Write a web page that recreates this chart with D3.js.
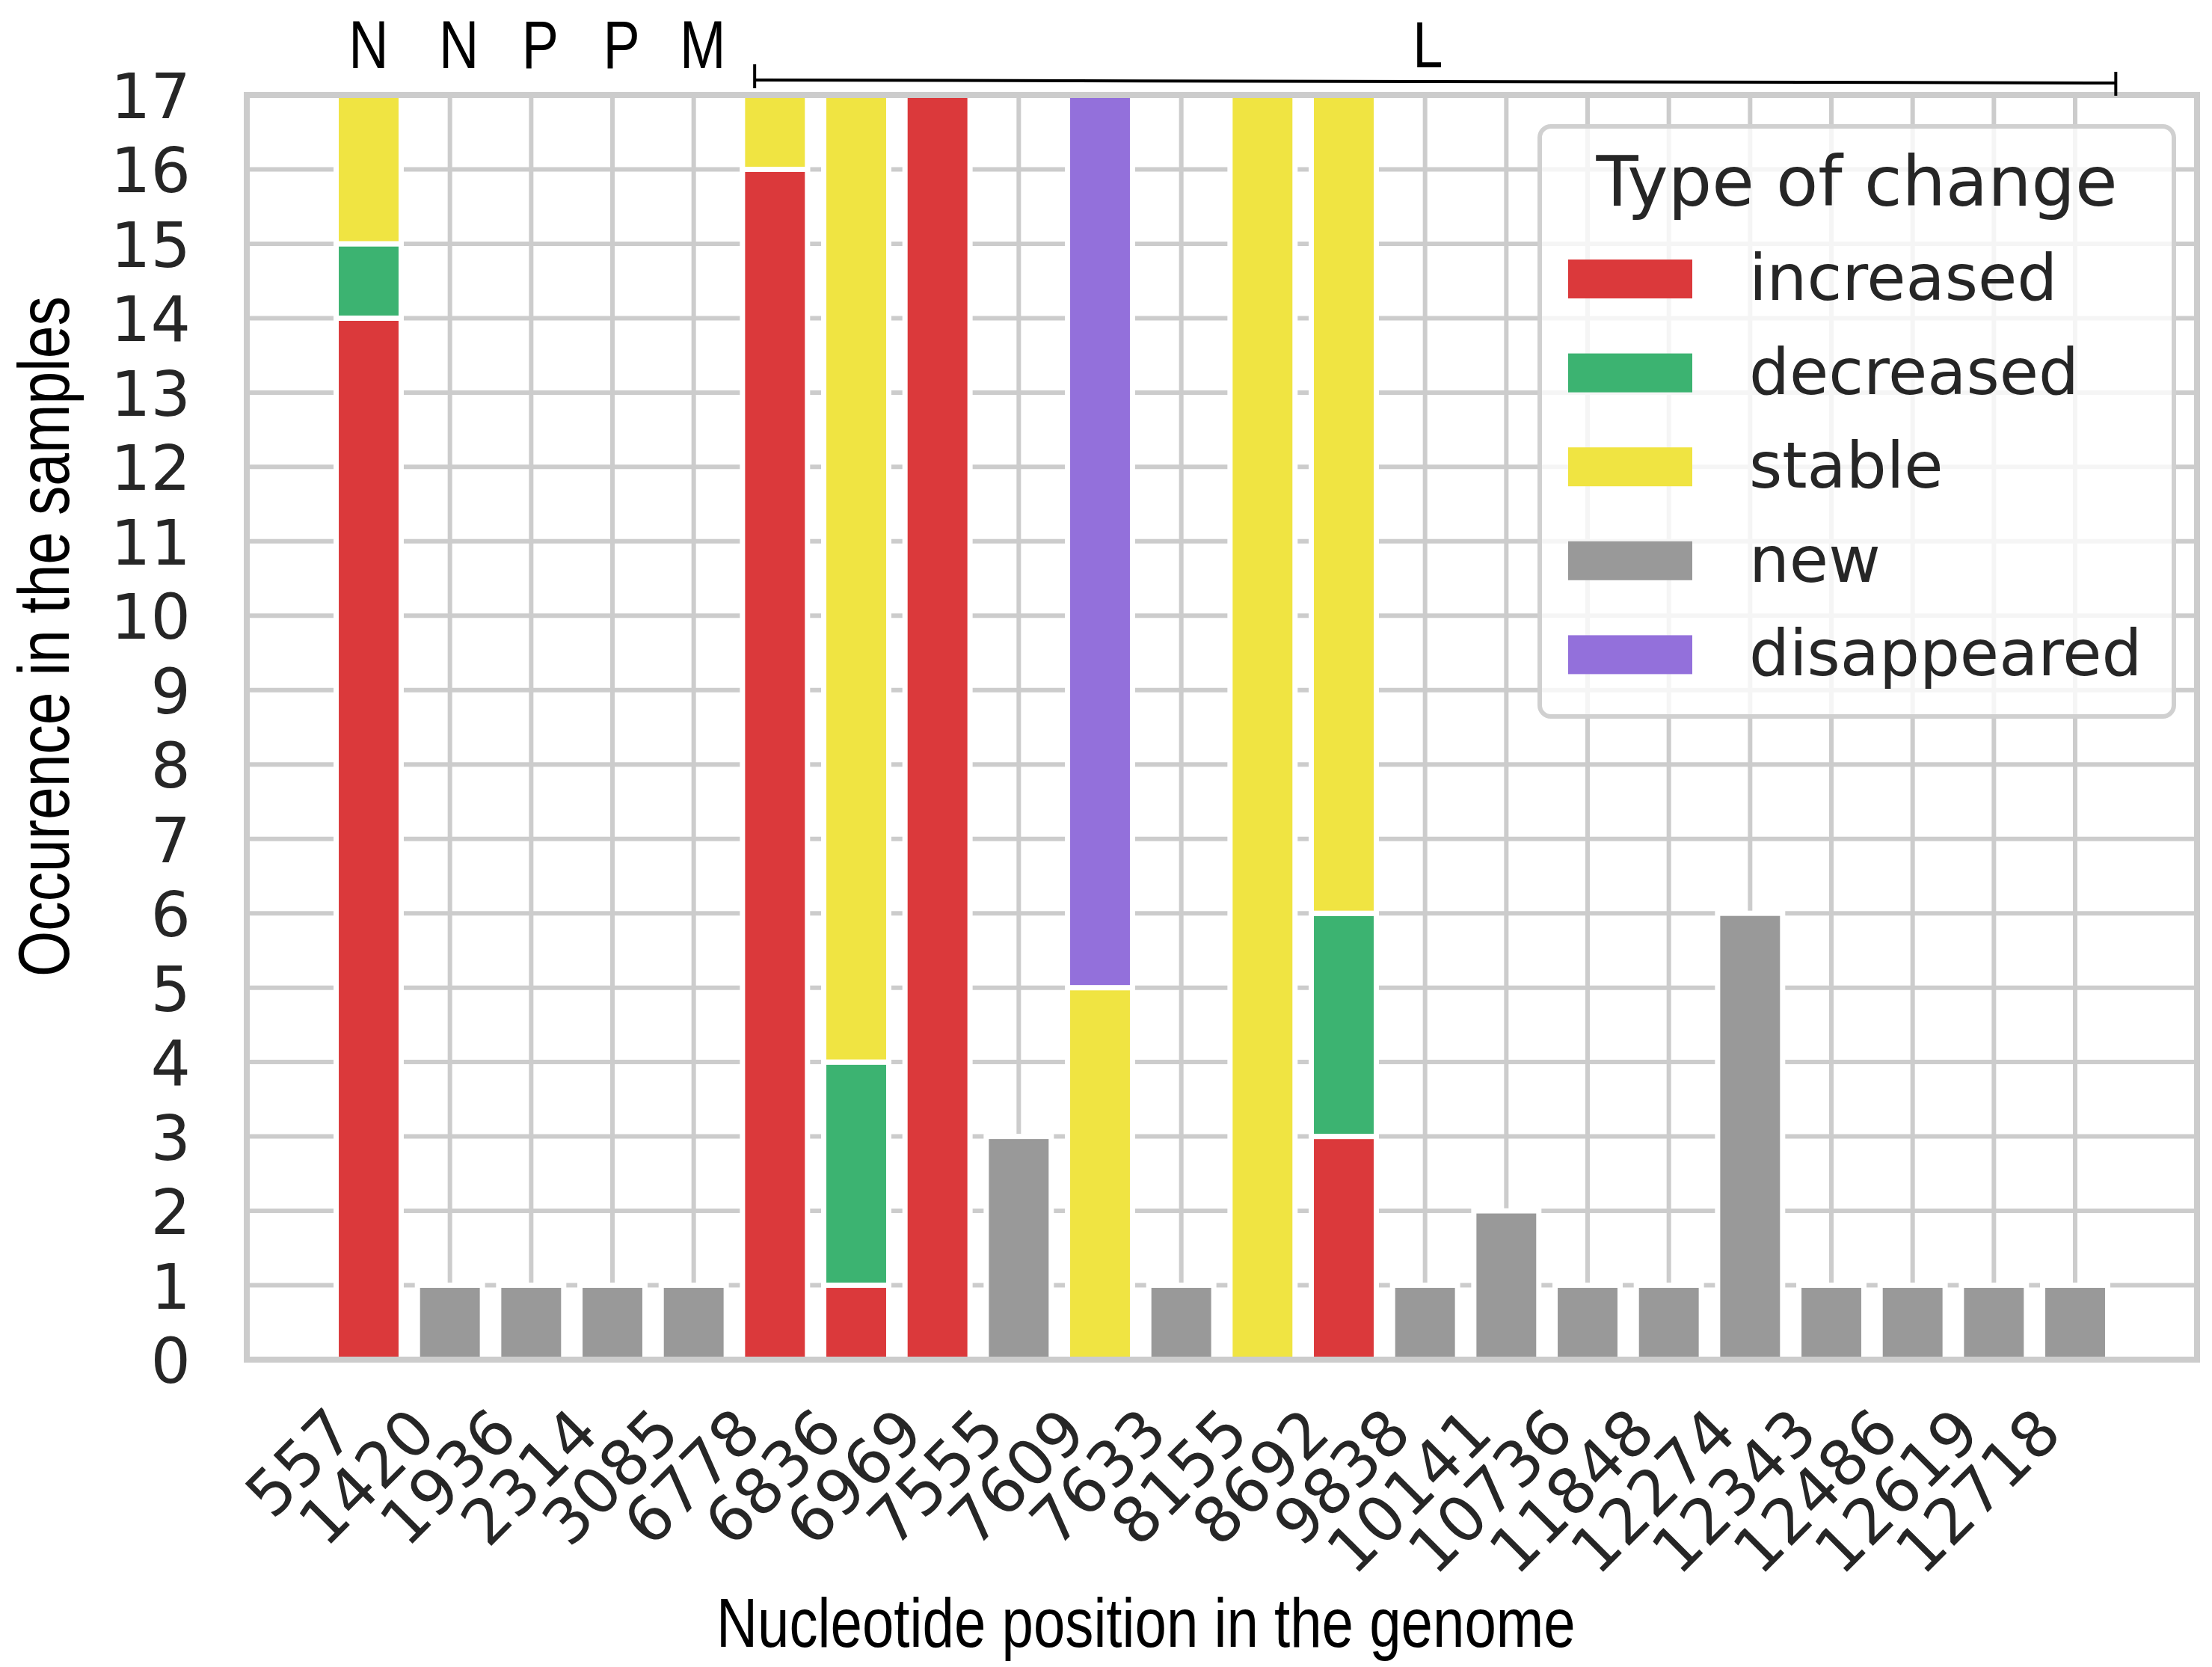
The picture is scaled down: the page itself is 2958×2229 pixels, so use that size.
<!DOCTYPE html>
<html>
<head>
<meta charset="utf-8">
<script src="https://cdn.jsdelivr.net/npm/d3@7"></script>
<style>
  body { margin: 0; background: white; }
</style>
</head>
<body>
<div id="chart"></div>
<script>
const positions = ["557", "1420", "1936", "2314", "3085", "6778", "6836", "6969", "7555", "7609", "7633",
  "8155", "8692", "9838", "10141", "10736", "11848", "12274", "12343", "12486", "12619", "12718"];

const increased   = [14, 0, 0, 0, 0, 16, 1, 17, 0, 0, 0, 0, 3, 0, 0, 0, 0, 0, 0, 0, 0, 0];
const decreased   = [1, 0, 0, 0, 0, 0, 3, 0, 0, 0, 0, 0, 3, 0, 0, 0, 0, 0, 0, 0, 0, 0];
const stable      = [2, 0, 0, 0, 0, 1, 13, 0, 0, 5, 0, 17, 11, 0, 0, 0, 0, 0, 0, 0, 0, 0];
const newOnes     = [0, 1, 1, 1, 1, 0, 0, 0, 3, 0, 1, 0, 0, 1, 2, 1, 1, 6, 1, 1, 1, 1];
const disappeared = [0, 0, 0, 0, 0, 0, 0, 0, 0, 12, 0, 0, 0, 0, 0, 0, 0, 0, 0, 0, 0, 0];

const changeTypes = ["increased", "decreased", "stable", "new", "disappeared"];
const changeColors = ["#db393b", "#3cb371", "#f0e442", "#999999", "#9370db"];

const yTicks = d3.range(0, 18);

// gene regions above the bars
const geneLabels = ["N", "N", "P", "P", "M"];
const geneL = { label: "L", from: 4.75, to: 21.5 };

const width = 2958;
const height = 2229;
const narrow = "'Liberation Sans', Arial, sans-serif";
const squeeze = 0.82; // no narrow font installed, squash the regular one

const rows = positions.map((p, i) => ({
  pos: p,
  i: i,
  increased: increased[i],
  decreased: decreased[i],
  stable: stable[i],
  new: newOnes[i],
  disappeared: disappeared[i]
}));

const svg = d3.select("#chart")
  .append("svg")
  .attr("width", width)
  .attr("height", height)
  .style("font-family", "'DejaVu Sans', sans-serif");

svg.append("rect").attr("width", width).attr("height", height).attr("fill", "white");

const x = d3.scaleLinear().domain([-1.5, 22.5]).range([330, 2938]);
const y = d3.scaleLinear().domain([0, 17]).range([1818, 127]);
const step = x(1) - x(0);
const barW = step * 0.8;

const color = d3.scaleOrdinal().domain(changeTypes).range(changeColors);

// grid
svg.append("g")
  .selectAll("line")
  .data(yTicks)
  .join("line")
  .attr("x1", 330).attr("x2", 2938)
  .attr("y1", d => y(d)).attr("y2", d => y(d))
  .attr("stroke", "#cccccc")
  .attr("stroke-width", 6);

svg.append("g")
  .selectAll("line")
  .data(rows)
  .join("line")
  .attr("x1", d => x(d.i)).attr("x2", d => x(d.i))
  .attr("y1", y(0)).attr("y2", y(17))
  .attr("stroke", "#cccccc")
  .attr("stroke-width", 6);

// stacked bars
const series = d3.stack().keys(changeTypes)(rows);

svg.append("g")
  .selectAll("g")
  .data(series)
  .join("g")
  .attr("fill", d => color(d.key))
  .selectAll("rect")
  .data(d => d.filter(s => s[1] > s[0]))
  .join("rect")
  .attr("x", d => x(d.data.i) - barW / 2)
  .attr("width", barW)
  .attr("y", d => y(d[1]))
  .attr("height", d => y(d[0]) - y(d[1]))
  .attr("stroke", "white")
  .attr("stroke-width", 7);

// frame
svg.append("rect")
  .attr("x", 330).attr("y", 127)
  .attr("width", 2938 - 330).attr("height", 1818 - 127)
  .attr("fill", "none")
  .attr("stroke", "#cccccc")
  .attr("stroke-width", 8);

// y tick labels
svg.append("g")
  .selectAll("text")
  .data(yTicks)
  .join("text")
  .attr("x", 255)
  .attr("y", d => y(d) + 31)
  .attr("text-anchor", "end")
  .attr("font-size", 84)
  .attr("fill", "#262626")
  .text(d => d);

// x tick labels, rotated
svg.append("g")
  .selectAll("text")
  .data(rows)
  .join("text")
  .attr("transform", d => `translate(${x(d.i) - 15},1920) rotate(-45)`)
  .attr("text-anchor", "end")
  .attr("font-size", 84)
  .attr("fill", "#262626")
  .text(d => d.pos);

// axis titles
svg.append("text")
  .attr("transform", `translate(92,851) rotate(-90) scale(${squeeze},1)`)
  .attr("text-anchor", "middle")
  .attr("font-family", narrow)
  .attr("font-size", 96)
  .attr("fill", "black")
  .text("Occurence in the samples");

svg.append("text")
  .attr("transform", `translate(958,2202) scale(${squeeze},1)`)
  .attr("font-family", narrow)
  .attr("font-size", 93)
  .attr("fill", "black")
  .text("Nucleotide position in the genome");

// gene annotations
svg.append("g")
  .selectAll("text")
  .data(geneLabels)
  .join("text")
  .attr("transform", (d, i) => `translate(${x(i) + (i === 0 ? 0 : 12)},91) scale(${squeeze},1)`)
  .attr("text-anchor", "middle")
  .attr("font-family", narrow)
  .attr("font-size", 90)
  .attr("fill", "black")
  .text(d => d);

const bracket = svg.append("g").attr("stroke", "black").attr("stroke-width", 4);
bracket.append("line")
  .attr("x1", x(geneL.from)).attr("x2", x(geneL.to))
  .attr("y1", 107).attr("y2", 111);
bracket.append("line")
  .attr("x1", x(geneL.from)).attr("x2", x(geneL.from))
  .attr("y1", 86).attr("y2", 118);
bracket.append("line")
  .attr("x1", x(geneL.to)).attr("x2", x(geneL.to))
  .attr("y1", 96).attr("y2", 128);

svg.append("text")
  .attr("transform", `translate(${(x(geneL.from) + x(geneL.to)) / 2 - 10},90) scale(${squeeze},1)`)
  .attr("text-anchor", "middle")
  .attr("font-family", narrow)
  .attr("font-size", 88)
  .attr("fill", "black")
  .text(geneL.label);

// legend
const legend = svg.append("g");
legend.append("rect")
  .attr("x", 2059).attr("y", 169)
  .attr("width", 2907 - 2059).attr("height", 958 - 169)
  .attr("rx", 15)
  .attr("fill", "white")
  .attr("fill-opacity", 0.8)
  .attr("stroke", "#d0d0d0")
  .attr("stroke-width", 6);

legend.append("text")
  .attr("x", 2483)
  .attr("y", 275)
  .attr("text-anchor", "middle")
  .attr("font-size", 92)
  .attr("fill", "#262626")
  .text("Type of change");

const items = legend.selectAll("g.item")
  .data(changeTypes)
  .join("g")
  .attr("class", "item")
  .attr("transform", (d, i) => `translate(0,${347 + i * 125.6})`);

items.append("rect")
  .attr("x", 2097).attr("y", 0)
  .attr("width", 166).attr("height", 52)
  .attr("fill", d => color(d));

items.append("text")
  .attr("x", 2339)
  .attr("y", 54)
  .attr("font-size", 85)
  .attr("fill", "#262626")
  .text(d => d);
</script>
</body>
</html>
